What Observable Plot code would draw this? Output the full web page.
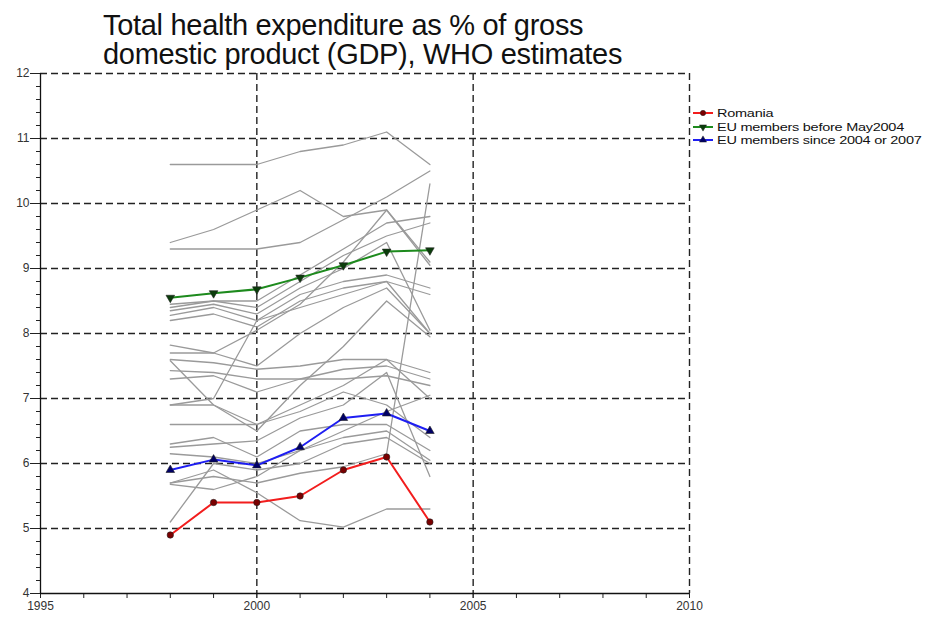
<!DOCTYPE html>
<html><head><meta charset="utf-8">
<script src="https://cdn.jsdelivr.net/npm/d3@7"></script>
<script src="https://cdn.jsdelivr.net/npm/@observablehq/plot@0.6"></script>
<style>
body{margin:0;background:#fff;font-family:"Liberation Sans",Arial,sans-serif;}
#wrap{position:relative;width:928px;height:618px;overflow:hidden;background:#fff}
#title{position:absolute;left:103px;top:11px;font-size:29px;line-height:29px;color:#111;letter-spacing:-0.3px;white-space:nowrap}
#legend{position:absolute;left:692px;top:106px;font-size:11.5px;line-height:12px;color:#111;letter-spacing:-0.2px;white-space:nowrap}
#legend .row{height:13.7px;display:flex;align-items:center}
#legend svg{margin-right:3px;flex:none}
#legend span{display:inline-block;transform:scaleX(1.26);transform-origin:left center}
</style>
</head><body>
<div id="wrap">
<div id="chart"></div>
<div id="title">Total health expenditure as % of gross<br>domestic product (GDP), WHO estimates</div>
<div id="legend"></div>
</div>
<script>
const years = [1998, 1999, 2000, 2001, 2002, 2003, 2004];
const romania = [4.9, 5.4, 5.4, 5.5, 5.9, 6.1, 5.1];
const euBefore2004 = [8.55, 8.62, 8.68, 8.86, 9.05, 9.26, 9.28];
const euSince2004 = [5.9, 6.06, 5.97, 6.25, 6.7, 6.77, 6.5];
const otherCountries = [
  [10.6, 10.6, 10.6, 10.8, 10.9, 11.1, 10.6],
  [9.4, 9.6, 9.9, 10.2, 9.8, 9.9, 9.1],
  [9.3, 9.3, 9.3, 9.4, 9.75, 10.1, 10.5],
  [8.45, 8.5, 8.5, 8.9, 9.3, 9.7, 9.8],
  [8.4, 8.5, 8.4, 8.8, 9.2, 9.5, 9.7],
  [8.35, 8.45, 8.3, 8.7, 9.0, 9.4, 8.05],
  [8.28, 8.4, 8.2, 8.6, 8.8, 8.9, 8.7],
  [8.2, 8.3, 8.1, 8.5, 8.7, 8.8, 8.6],
  [7.82, 7.7, 8.05, 8.45, 9.1, 9.9, 9.05],
  [7.7, 7.7, 7.5, 8.0, 8.4, 8.7, 8.0],
  [7.6, 7.55, 7.45, 7.5, 7.6, 7.6, 7.4],
  [7.58, 6.9, 6.5, 7.2, 7.8, 8.5, 7.95],
  [7.43, 7.4, 7.3, 7.3, 7.45, 7.5, 7.3],
  [7.3, 7.35, 7.1, 7.3, 7.3, 7.35, 7.2],
  [6.9, 7.0, 8.2, 8.4, 8.6, 8.8, 8.0],
  [6.9, 6.9, 6.6, 6.9, 7.2, 7.6, 7.0],
  [6.6, 6.6, 6.6, 6.8, 7.1, 6.9, 6.4],
  [6.3, 6.4, 6.1, 6.5, 6.6, 6.6, 6.2],
  [6.25, 6.3, 6.35, 6.7, 6.9, 7.4, 5.8],
  [6.15, 6.1, 6.0, 6.2, 6.4, 6.5, 6.05],
  [5.7, 5.8, 5.7, 5.85, 5.95, 6.15, 10.3],
  [5.68, 5.6, 5.8, 6.2, 6.5, 6.8, 7.05],
  [5.7, 5.9, 5.55, 5.12, 5.02, 5.3, 5.3],
  [5.1, 6.0, 5.9, 6.0, 6.3, 6.4, 6.0]
];
const xTickLabels = [1995, 2000, 2005, 2010];
const xMinorTicks = d3.range(1995, 2011);
const yTickLabels = [4, 5, 6, 7, 8, 9, 10, 11, 12];
const yMinorTicks = d3.range(40, 121, 2).map(v => v / 10);
const legendLabels = ["Romania", "EU members before May2004", "EU members since 2004 or 2007"];

const sqrt3 = Math.sqrt(3);
const triangleDown = {
  draw(ctx, size) {
    const y = -Math.sqrt(size / (sqrt3 * 3));
    ctx.moveTo(0, -y * 2);
    ctx.lineTo(-sqrt3 * y, y);
    ctx.lineTo(sqrt3 * y, y);
    ctx.closePath();
  }
};

const grayData = otherCountries.flatMap((vals, i) => vals.map((v, j) => ({c: i, year: years[j], value: v})));
const toRows = vals => vals.map((v, j) => ({year: years[j], value: v}));
const roRows = toRows(romania), oldRows = toRows(euBefore2004), newRows = toRows(euSince2004);

const series = [
  {rows: roRows, line: "#f21d1d", fill: "#7a0000", symbol: "circle"},
  {rows: oldRows, line: "#1d8a1d", fill: "#0b3d0b", symbol: triangleDown},
  {rows: newRows, line: "#1e1ef2", fill: "#000066", symbol: "triangle"}
];

const dash = "7,4";
const chart = Plot.plot({
  width: 928, height: 618,
  marginLeft: 40, marginRight: 239, marginTop: 73, marginBottom: 25,
  x: {domain: [1995, 2010]},
  y: {domain: [4, 12]},
  style: {fontFamily: "Liberation Sans, Arial, sans-serif", fontSize: "12px", color: "#333", background: "#fff"},
  marks: [
    Plot.ruleY(yTickLabels.filter(d => d > 4), {stroke: "#222", strokeWidth: 1.4, strokeDasharray: dash}),
    Plot.ruleX(xTickLabels.filter(d => d > 1995), {stroke: "#222", strokeWidth: 1.4, strokeDasharray: dash}),
    Plot.axisY({ticks: yMinorTicks, tickSize: 4, tickFormat: () => "", stroke: "#222", label: null}),
    Plot.axisY({ticks: yTickLabels, tickSize: 10, tickPadding: 1, tickFormat: d => String(d), stroke: "#222", label: null, style: {letterSpacing: "-0.8px"}}),
    Plot.axisX({ticks: xMinorTicks, tickSize: 5, tickFormat: () => "", stroke: "#222", label: null}),
    Plot.axisX({ticks: xTickLabels, tickSize: 5, tickPadding: 3, tickFormat: d => String(d), stroke: "#222", label: null, style: {letterSpacing: "-0.8px"}}),
    Plot.ruleX([1995], {stroke: "#111", strokeWidth: 1.3}),
    Plot.ruleY([4], {stroke: "#111", strokeWidth: 1.3}),
    Plot.line(grayData, {x: "year", y: "value", z: "c", stroke: "#9a9a9a", strokeWidth: 1.3}),
    ...series.flatMap(s => [
      Plot.line(s.rows, {x: "year", y: "value", stroke: s.line, strokeWidth: 2}),
      Plot.dot(s.rows, {x: "year", y: "value", symbol: () => s.symbol, r: 3.2, fill: s.fill, stroke: "#222", strokeWidth: 0.6})
    ])
  ]
});
document.getElementById("chart").appendChild(chart);

const legend = d3.select("#legend");
legendLabels.forEach((lab, i) => {
  const s = series[i];
  const row = legend.append("div").attr("class", "row");
  const svg = row.append("svg").attr("width", 22).attr("height", 12);
  svg.append("line").attr("x1", 1).attr("x2", 21).attr("y1", 6).attr("y2", 6).attr("stroke", s.line).attr("stroke-width", 2);
  const sym = typeof s.symbol === "string" ? (s.symbol === "circle" ? d3.symbolCircle : d3.symbolTriangle) : s.symbol;
  svg.append("path").attr("transform", "translate(11,6)").attr("d", d3.symbol(sym, 22)()).attr("fill", s.fill).attr("stroke", "#222").attr("stroke-width", 0.5);
  row.append("span").text(lab);
});
</script>
</body></html>
